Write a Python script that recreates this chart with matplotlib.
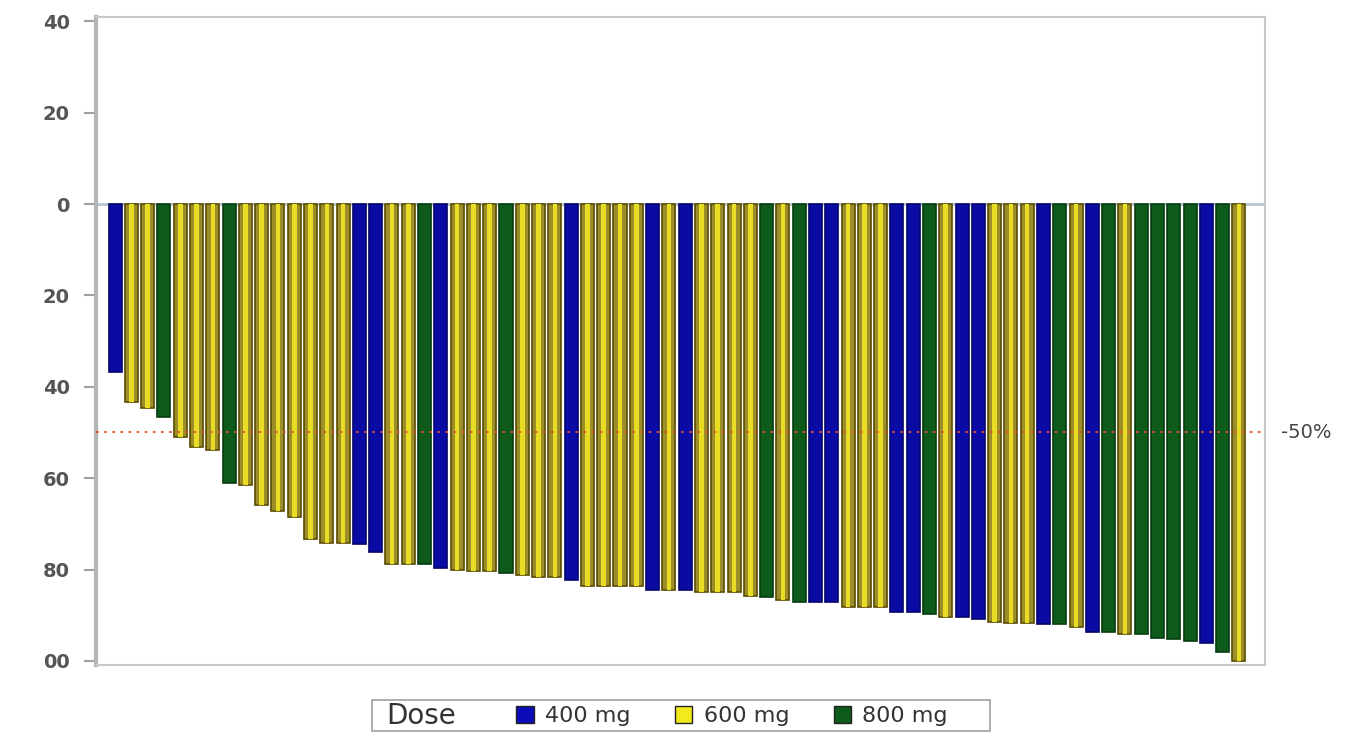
import numpy as np
import matplotlib.pyplot as plt
from matplotlib.patches import Patch, Rectangle

# best % change from baseline per patient, sorted, with dose group
dose = ['400', '600', '600', '800', '600', '600', '600', '800', '600', '600',
        '600', '600', '600', '600', '600', '400', '400', '600', '600', '800',
        '400', '600', '600', '600', '800', '600', '600', '600', '400', '600',
        '600', '600', '600', '400', '600', '400', '600', '600', '600', '600',
        '800', '600', '800', '400', '400', '600', '600', '600', '400', '400',
        '800', '600', '400', '400', '600', '600', '600', '400', '800', '600',
        '400', '800', '600', '800', '800', '800', '800', '400', '800', '600']
change = [-36.7, -43.3, -44.6, -46.6, -50.9, -53.1, -53.8, -61.0, -61.4, -65.8,
          -67.3, -68.4, -73.4, -74.1, -74.1, -74.5, -76.1, -78.9, -78.9, -78.9,
          -79.6, -80.0, -80.4, -80.4, -80.7, -81.1, -81.7, -81.7, -82.2, -83.7,
          -83.7, -83.7, -83.7, -84.4, -84.4, -84.4, -85.0, -85.0, -85.0, -85.9,
          -86.1, -86.6, -87.0, -87.2, -87.2, -88.1, -88.1, -88.3, -89.2, -89.2,
          -89.8, -90.3, -90.5, -90.9, -91.4, -91.6, -91.6, -92.0, -92.0, -92.5,
          -93.6, -93.6, -94.2, -94.2, -94.9, -95.3, -95.7, -96.0, -98.1, -100.1]

y_ticks = [40, 20, 0, -20, -40, -60, -80, -100]
y_tick_labels = ['40', '20', '0', '20', '40', '60', '80', '00']
legend_labels = ['400 mg', '600 mg', '800 mg']

face = {'400': '#0a0aa4', '600': '#9c8f2a', '800': '#0e5a1a'}
edge = {'400': '#05056a', '600': '#5a4c00', '800': '#073d10'}
legend_face = ['#0b0bb8', '#f2ea1c', '#0e5c1a']

fig = plt.figure(figsize=(13.68, 7.34), dpi=100)
ax = fig.add_axes([0.0702, 0.094, 0.8545, 0.8826])

x = np.arange(len(change))
ax.bar(x, change, width=0.8, color=[face[d] for d in dose],
       edgecolor=[edge[d] for d in dose], linewidth=1.2, zorder=3)

# bright centre stripe on the 600 mg bars
is600 = np.array([d == '600' for d in dose])
ax.bar(x[is600], np.array(change)[is600], width=0.28, color='#e8dc24',
       linewidth=0, zorder=4)

ax.axhline(0, color='#b8c4d4', lw=2, zorder=2)
ax.axhline(-50, color='#e05030', lw=1.3, ls=(0, (1.5, 3)), zorder=5)
ax.text(1.014, -50, '-50%', transform=ax.get_yaxis_transform(),
        va='center', ha='left', fontsize=14, color='#444444')

ax.set_xlim(-1.17, 70.6)
ax.set_ylim(-100.9, 40.9)
ax.set_xticks([])
ax.set_yticks(y_ticks)
ax.set_yticklabels(y_tick_labels, fontsize=14, fontweight='bold', color='#555555')
ax.tick_params(axis='y', length=9, width=1.5, color='#a0a0a0', pad=10)

for side in ['top', 'right', 'bottom']:
    ax.spines[side].set_color('#c8c8c8')
    ax.spines[side].set_linewidth(1.5)
ax.spines['left'].set_color('#b4b4b4')
ax.spines['left'].set_linewidth(3)

# legend box along the bottom
fig.patches.append(Rectangle((0.272, 0.004), 0.452, 0.042, transform=fig.transFigure,
                             facecolor='none', edgecolor='#a0a0a0', lw=1.2))
fig.text(0.282, 0.025, 'Dose', fontsize=20, color='#333333', va='center', ha='left')
handles = [Patch(facecolor=c, edgecolor='#222222', lw=1) for c in legend_face]
fig.legend(handles, legend_labels, loc='center', bbox_to_anchor=(0.535, 0.025),
           ncol=3, frameon=False, fontsize=16, handlelength=0.8, handleheight=0.8,
           handletextpad=0.5, columnspacing=2.0, labelcolor='#333333')

fig.savefig('out.png', dpi=100)
